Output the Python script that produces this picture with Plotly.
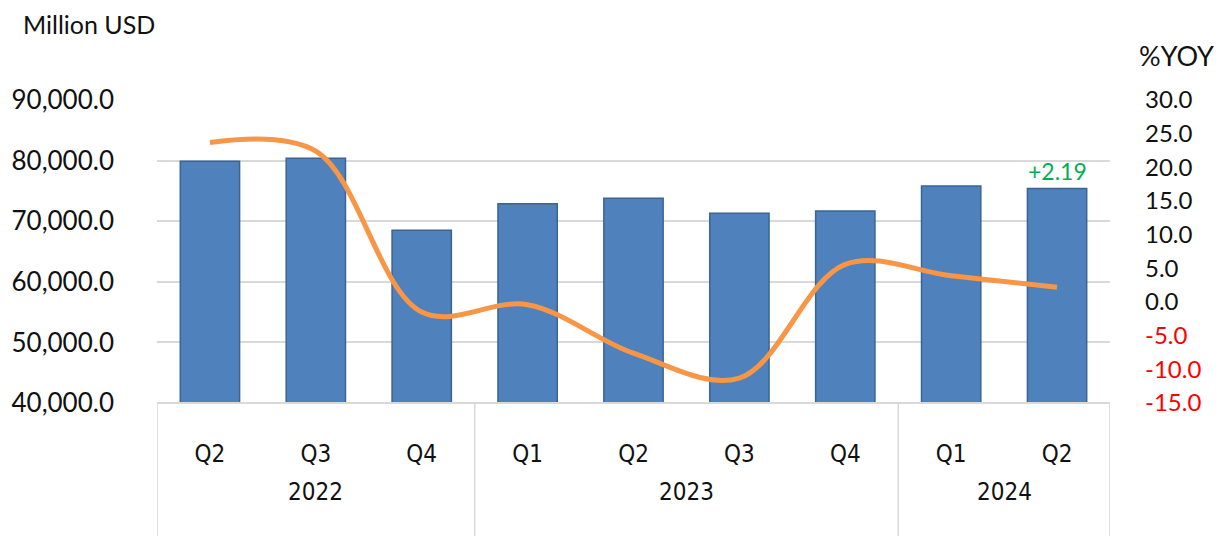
import plotly.graph_objects as go

# Quarterly values, Q2 2022 - Q2 2024
years = ["2022", "2022", "2022", "2023", "2023", "2023", "2023", "2024", "2024"]
quarters = ["Q2", "Q3", "Q4", "Q1", "Q2", "Q3", "Q4", "Q1", "Q2"]
value_musd = [79900, 80400, 68500, 72900, 73800, 71300, 71700, 75800, 75400]
yoy_pct = [23.7, 22.4, -1.5, -0.4, -7.6, -11.3, 5.6, 3.9, 2.19]

left_ticks = [40000, 50000, 60000, 70000, 80000, 90000]
right_ticks = [-15, -10, -5, 0, 5, 10, 15, 20, 25, 30]

FONT = "Lato, Calibri, 'Open Sans', sans-serif"
NARROW = "'Liberation Sans Narrow', 'DejaVu Sans Condensed', 'Arial Narrow', sans-serif"
TXT = "#111111"

W, H = 1225, 536
M = dict(l=157, r=115, t=100, b=133)
PW = W - M["l"] - M["r"]
PH = H - M["t"] - M["b"]


def px_to_paper(px, py):
    return (px - M["l"]) / PW, (H - M["b"] - py) / PH


x = list(range(len(quarters)))

fig = go.Figure()
fig.add_trace(go.Bar(
    x=x, y=[v - left_ticks[0] for v in value_musd], base=left_ticks[0],
    marker=dict(color="#4F81BD", line=dict(color="#3A6494", width=1.5)),
    yaxis="y", showlegend=False, hoverinfo="skip",
))
fig.add_trace(go.Scatter(
    x=x, y=yoy_pct, mode="lines", yaxis="y2",
    line=dict(color="#F79646", width=5, shape="spline", smoothing=1.0),
    showlegend=False,
))


def right_label(v):
    s = f"{v:.1f}"
    if v < 0:
        return f"<span style='color:#FF0000'>{s}</span>"
    return s


fig.update_layout(
    width=W, height=H,
    margin=M,
    paper_bgcolor="white", plot_bgcolor="white",
    bargap=0.44,
    font=dict(family=FONT, color=TXT),
    xaxis=dict(
        range=[-0.5, len(quarters) - 0.5],
        tickvals=x, ticktext=quarters,
        tickfont=dict(family=NARROW, size=24, color=TXT),
        ticks="", showgrid=False, zeroline=False, showline=False,
        ticklabelstandoff=34,
    ),
    yaxis=dict(
        range=[left_ticks[0], left_ticks[-1]],
        tickvals=left_ticks, ticktext=[f"{v:,.1f}" for v in left_ticks],
        tickfont=dict(size=26, color=TXT),
        showgrid=True, gridcolor="#D9D9D9", gridwidth=2,
        zeroline=False, showline=False, ticks="",
        ticklabelstandoff=42,
    ),
    yaxis2=dict(
        overlaying="y", side="right",
        range=[right_ticks[0], right_ticks[-1]],
        tickvals=right_ticks, ticktext=[right_label(v) for v in right_ticks],
        tickfont=dict(size=24, color=TXT),
        showgrid=False, zeroline=False, showline=False, ticks="",
        ticklabelstandoff=34,
    ),
)

# Year group dividers beneath the category axis
bounds = [-0.5]
for i in range(1, len(years)):
    if years[i] != years[i - 1]:
        bounds.append(i - 0.5)
bounds.append(len(years) - 0.5)

fig.add_shape(type="line", xref="paper", yref="paper", x0=0, x1=1, y0=0, y1=0,
              line=dict(color="#D9D9D9", width=2))
for b in bounds:
    fig.add_shape(type="line", xref="x", yref="paper", x0=b, x1=b, y0=0, y1=-0.45,
                  line=dict(color="#D9D9D9", width=1.5))

for j in range(len(bounds) - 1):
    idx = [i for i in x if bounds[j] < i < bounds[j + 1]]
    fig.add_annotation(
        x=(bounds[j] + bounds[j + 1]) / 2, xref="x", y=-0.295, yref="paper",
        text=years[idx[0]], showarrow=False, yanchor="middle",
        font=dict(family=NARROW, size=24, color=TXT),
    )

# Latest %YOY value above the last bar
fig.add_annotation(
    x=x[-1], y=value_musd[-1], xref="x", yref="y",
    text=f"+{yoy_pct[-1]:.2f}", showarrow=False, yanchor="bottom", yshift=1,
    font=dict(size=23, color="#00B050"),
)

# Axis unit captions
ux, uy = px_to_paper(21, 24)
fig.add_annotation(x=ux, y=uy, xref="paper", yref="paper", text="Million USD",
                   showarrow=False, xanchor="left", yanchor="middle",
                   font=dict(size=25, color=TXT))
rx, ry = px_to_paper(1176, 55)
fig.add_annotation(x=rx, y=ry, xref="paper", yref="paper", text="%YOY",
                   showarrow=False, xanchor="center", yanchor="middle",
                   font=dict(size=27, color=TXT))

fig.write_html("out.html")
